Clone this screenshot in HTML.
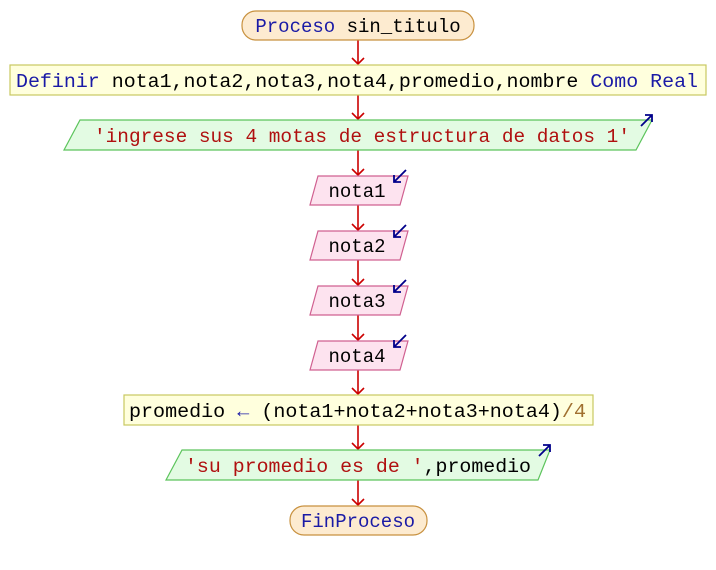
<!DOCTYPE html>
<html><head><meta charset="utf-8"><style>body{margin:0;background:#fff}svg{display:block}</style></head>
<body>
<svg width="716" height="570" xmlns="http://www.w3.org/2000/svg" font-family="Liberation Mono, monospace" font-size="19">
<defs><marker id="a" markerWidth="12" markerHeight="10" refX="6" refY="9" orient="auto" markerUnits="userSpaceOnUse"><path d="M0,3 L6,9 L12,3" fill="none" stroke="#c00" stroke-width="1.5"/></marker></defs>
<g stroke="#c00" stroke-width="1.6">
<line x1="358" y1="40" x2="358" y2="64"/><path d="M352,58 L358,64 L364,58" fill="none"/>
<line x1="358" y1="95" x2="358" y2="119"/><path d="M352,113 L358,119 L364,113" fill="none"/>
<line x1="358" y1="150" x2="358" y2="175"/><path d="M352,169 L358,175 L364,169" fill="none"/>
<line x1="358" y1="205" x2="358" y2="230"/><path d="M352,224 L358,230 L364,224" fill="none"/>
<line x1="358" y1="260" x2="358" y2="285"/><path d="M352,279 L358,285 L364,279" fill="none"/>
<line x1="358" y1="315" x2="358" y2="340"/><path d="M352,334 L358,340 L364,334" fill="none"/>
<line x1="358" y1="370" x2="358" y2="394"/><path d="M352,388 L358,394 L364,388" fill="none"/>
<line x1="358" y1="425" x2="358" y2="449"/><path d="M352,443 L358,449 L364,443" fill="none"/>
<line x1="358" y1="480" x2="358" y2="505"/><path d="M352,499 L358,505 L364,499" fill="none"/>
</g>
<rect x="242" y="11" width="232" height="29" rx="14" fill="#fdebd0" stroke="#c8913f" stroke-width="1.2"/>
<text x="358" y="32" text-anchor="middle" fill="#000"><tspan fill="#1a1aa6">Proceso</tspan> sin_titulo</text>
<rect x="10" y="65" width="696" height="30" fill="#ffffdd" stroke="#c8c860" stroke-width="1.2"/>
<text x="16" y="87" textLength="682" lengthAdjust="spacingAndGlyphs"><tspan fill="#1a1aa6">Definir</tspan> nota1,nota2,nota3,nota4,promedio,nombre <tspan fill="#1a1aa6">Como</tspan> <tspan fill="#1a1aa6">Real</tspan></text>
<polygon points="80,120 652,120 636,150 64,150" fill="#e3fbe3" stroke="#5cc45c" stroke-width="1.2"/>
<text x="94" y="142" fill="#b01010" textLength="536" lengthAdjust="spacingAndGlyphs">'ingrese sus 4 motas de estructura de datos 1'</text>
<path d="M641,126 L652,115 M645,115 L652,115 L652,122" stroke="#00008b" stroke-width="1.8" fill="none"/>
<g fill="#fde3ef" stroke="#d06090" stroke-width="1.2">
<polygon points="318,176 408,176 400,205 310,205"/>
<polygon points="318,231 408,231 400,260 310,260"/>
<polygon points="318,286 408,286 400,315 310,315"/>
<polygon points="318,341 408,341 400,370 310,370"/>
</g>
<g fill="#000" text-anchor="middle">
<text x="357" y="197">nota1</text><text x="357" y="252">nota2</text><text x="357" y="307">nota3</text><text x="357" y="362">nota4</text>
</g>
<g stroke="#00008b" stroke-width="1.8" fill="none">
<path d="M406,170 L394,182 M394,175 L394,182 L401,182"/>
<path d="M406,225 L394,237 M394,230 L394,237 L401,237"/>
<path d="M406,280 L394,292 M394,285 L394,292 L401,292"/>
<path d="M406,335 L394,347 M394,340 L394,347 L401,347"/>
</g>
<rect x="124" y="395" width="469" height="30" fill="#ffffdd" stroke="#c8c860" stroke-width="1.2"/>
<text x="129" y="417" textLength="457" lengthAdjust="spacingAndGlyphs">promedio <tspan fill="#1a1aa6">←</tspan> (nota1+nota2+nota3+nota4)<tspan fill="#a07030">/4</tspan></text>
<polygon points="182,450 550,450 538,480 166,480" fill="#e3fbe3" stroke="#5cc45c" stroke-width="1.2"/>
<text x="185" y="472" textLength="346" lengthAdjust="spacingAndGlyphs"><tspan fill="#b01010">'su promedio es de '</tspan>,promedio</text>
<path d="M539,456 L550,445 M543,445 L550,445 L550,452" stroke="#00008b" stroke-width="1.8" fill="none"/>
<rect x="290" y="506" width="137" height="29" rx="14" fill="#fdebd0" stroke="#c8913f" stroke-width="1.2"/>
<text x="358" y="527" text-anchor="middle" fill="#1a1aa6">FinProceso</text>
</svg>
</body></html>
